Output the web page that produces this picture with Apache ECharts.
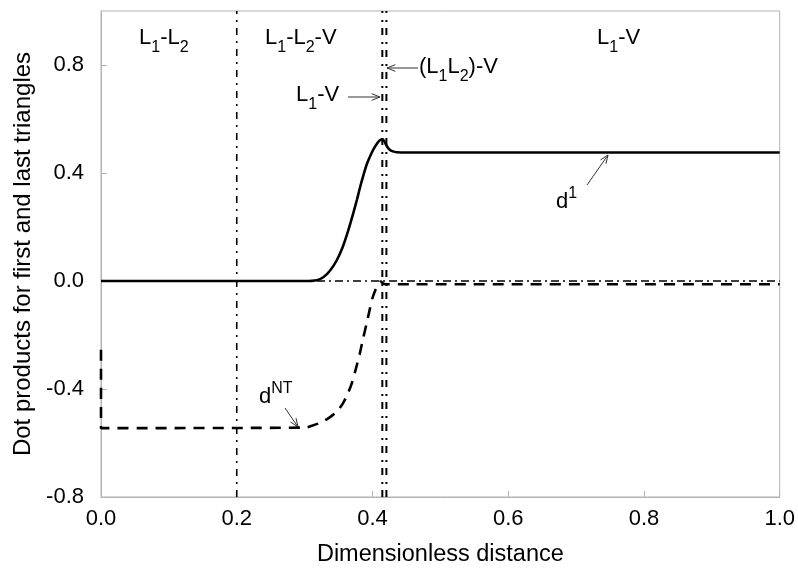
<!DOCTYPE html>
<html>
<head>
<meta charset="utf-8">
<script src="https://cdn.jsdelivr.net/npm/echarts@6/dist/echarts.min.js"></script>
<style>
html,body{margin:0;padding:0;background:#fff;}
#c{width:798px;height:572px;}
</style>
</head>
<body>
<div id="c"></div>
<script>
// ---- data ----
var xTicks = [0.0, 0.2, 0.4, 0.6, 0.8, 1.0];
var yTicks = [-0.8, -0.4, 0.0, 0.4, 0.8];
// d1 (solid)
var d1X = [0.0, 0.30, 0.318, 0.328, 0.337, 0.347, 0.356, 0.364, 0.371, 0.377, 0.382, 0.387, 0.392, 0.397, 0.402, 0.407, 0.411, 0.415, 0.418, 0.421, 0.425, 0.430, 0.436, 0.45, 1.0];
var d1Y = [0.0, 0.0, 0.003, 0.015, 0.037, 0.075, 0.125, 0.185, 0.245, 0.300, 0.350, 0.395, 0.435, 0.465, 0.490, 0.510, 0.521, 0.525, 0.515, 0.500, 0.487, 0.480, 0.477, 0.476, 0.476];
// dNT (dashed)
var dNTX = [0.0, 0.0, 0.30, 0.312, 0.325, 0.337, 0.347, 0.356, 0.363, 0.369, 0.375, 0.381, 0.386, 0.391, 0.396, 0.400, 0.404, 0.408, 0.412, 0.416, 0.420, 1.0];
var dNTY = [-0.255, -0.545, -0.543, -0.535, -0.523, -0.505, -0.485, -0.455, -0.420, -0.383, -0.330, -0.272, -0.215, -0.161, -0.105, -0.063, -0.035, -0.014, -0.002, -0.010, -0.012, -0.012];
// reference zero line
var zeroX = [0.0, 1.0];
var zeroY = [0.0, 0.0];
// phase boundaries
var boundaryA = 0.2;
var boundaryB = [0.4145, 0.4205];

function pairs(xs, ys){ return xs.map(function(x,i){ return [x, ys[i]]; }); }

var FONT = 'Liberation Sans, Arial, sans-serif';
var FS = 22;
var chart = echarts.init(document.getElementById('c'), null, {renderer:'canvas'});

var series = [
  {type:'line', data: pairs(zeroX, zeroY), symbol:'none', silent:true,
   lineStyle:{color:'#000', width:1.6, type:[8,4,2,4]}, z:1},
  {type:'line', data: [[boundaryA,-0.8],[boundaryA,1.0]], symbol:'none', silent:true,
   lineStyle:{color:'#000', width:1.6, type:[7,6,2,6]}, z:1},
  {type:'line', data: [[boundaryB[0],-0.8],[boundaryB[0],1.0]], symbol:'none', silent:true,
   lineStyle:{color:'#000', width:2, type:[7,6,2,7]}, z:1},
  {type:'line', data: [[boundaryB[1],-0.8],[boundaryB[1],1.0]], symbol:'none', silent:true,
   lineStyle:{color:'#000', width:2, type:[7,6,2,7]}, z:1},
  {type:'line', name:'d1', data: pairs(d1X, d1Y), symbol:'none', smooth:0.3,
   lineStyle:{color:'#000', width:2.6}, z:3},
  {type:'line', name:'dNT', data: pairs(dNTX, dNTY), symbol:'none', smooth:0.3,
   lineStyle:{color:'#000', width:2.6, type:[11,8]}, z:3}
];

var rich = {
  m:{fontSize:FS, fontFamily:FONT, color:'#000'},
  s:{fontSize:16, fontFamily:FONT, color:'#000', verticalAlign:'bottom', padding:[0,0,-7,0]},
  p:{fontSize:16, fontFamily:FONT, color:'#000', verticalAlign:'top', padding:[-5,0,0,0]}
};
function arrow(x1,y1,x2,y2){
  var a = Math.atan2(y2-y1, x2-x1), L=9, w=0.38;
  return [
    {type:'line', shape:{x1:x1,y1:y1,x2:x2,y2:y2}, style:{stroke:'#333', lineWidth:1}},
    {type:'polyline', shape:{points:[[x2-L*Math.cos(a-w), y2-L*Math.sin(a-w)],[x2,y2],[x2-L*Math.cos(a+w), y2-L*Math.sin(a+w)]]}, style:{stroke:'#333', lineWidth:1, fill:null}}
  ];
}

var graphics = [
  {type:'text', left:139, top:27, style:{rich:rich, text:'{m|L}{s|1}{m|-L}{s|2}'}},
  {type:'text', left:265, top:27, style:{rich:rich, text:'{m|L}{s|1}{m|-L}{s|2}{m|-V}'}},
  {type:'text', left:597, top:27, style:{rich:rich, text:'{m|L}{s|1}{m|-V}'}},
  {type:'text', left:296, top:84, style:{rich:rich, text:'{m|L}{s|1}{m|-V}'}},
  {type:'text', left:419, top:56, style:{rich:rich, text:'{m|(L}{s|1}{m|L}{s|2}{m|)-V}'}},
  {type:'text', left:556, top:186, style:{rich:rich, text:'{m|d}{p|1}'}},
  {type:'text', left:259, top:381, style:{rich:rich, text:'{m|d}{p|NT}'}}
].concat(arrow(348,97,380,97), arrow(418,68,387,68), arrow(587,185,608,155), arrow(285,408,298,427));

chart.setOption({
  animation:false,
  backgroundColor:'#fff',
  grid:{left:101, right:17, top:11, bottom:73, show:true, borderColor:'#b3b3b3', borderWidth:1},
  xAxis:{type:'value', min:xTicks[0], max:xTicks[xTicks.length-1], interval:0.2,
    name:'Dimensionless distance', nameLocation:'middle', nameGap:46,
    nameTextStyle:{fontSize:23.5, fontFamily:FONT, color:'#000'},
    axisLine:{onZero:false, lineStyle:{color:'#b3b3b3'}},
    axisTick:{inside:true, length:6, lineStyle:{color:'#b3b3b3'}},
    axisLabel:{fontSize:FS, fontFamily:FONT, color:'#000', margin:11, formatter:function(v){return v.toFixed(1);}},
    splitLine:{show:false}},
  yAxis:{type:'value', min:yTicks[0], max:1.0, interval:0.4,
    name:'Dot products for first and last triangles', nameLocation:'middle', nameGap:60, nameRotate:90,
    nameTextStyle:{fontSize:24, fontFamily:FONT, color:'#000'},
    axisLine:{show:true, onZero:false, lineStyle:{color:'#b3b3b3'}},
    axisTick:{show:true, inside:true, length:6, lineStyle:{color:'#b3b3b3'}},
    axisLabel:{fontSize:FS, fontFamily:FONT, color:'#000', margin:17, showMaxLabel:false, formatter:function(v){return v.toFixed(1);}},
    splitLine:{show:false}},
  series: series,
  graphic: graphics
});
</script>
</body>
</html>
